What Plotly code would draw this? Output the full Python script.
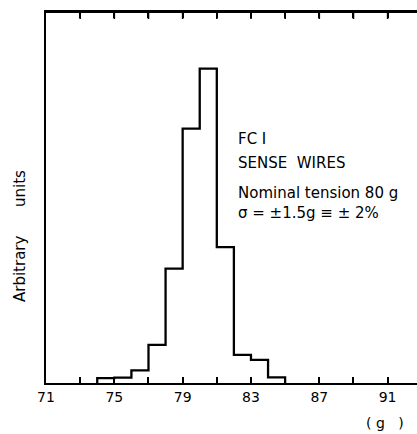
import plotly.graph_objects as go

# Histogram bins (g) and heights (arbitrary units)
bin_edges = [74, 75, 76, 77, 78, 79, 80, 81, 82, 83, 84, 85]
heights = [5, 5.5, 12.7, 38.3, 115, 255.7, 316, 136.7, 28.3, 23.3, 5.7]

tick_values = [71, 73, 75, 77, 79, 81, 83, 85, 87, 89, 91]
tick_labels = ["71", "", "75", "", "79", "", "83", "", "87", "", "91"]

info_lines = ["FC I", "SENSE  WIRES", "Nominal tension 80 g", "σ = ±1.5g ≡ ± 2%"]

x_pts = [bin_edges[0]] + bin_edges
y_pts = [0] + heights + [0]

fig = go.Figure()
fig.add_trace(go.Scatter(
    x=x_pts, y=y_pts, mode="lines", line=dict(color="black", width=2.3, shape="hv"),
    hoverinfo="skip", showlegend=False,
))

FONT = "DejaVu Sans"
XR = [71, 92.72]
TOP = 12
PLOT_H = 383 - TOP
fig.update_layout(
    width=417, height=434,
    margin=dict(l=46, r=0, t=TOP, b=51, pad=0),
    plot_bgcolor="white", paper_bgcolor="white",
    font=dict(family=FONT, color="black", size=14),
    showlegend=False,
    xaxis=dict(
        range=XR, tickmode="array", tickvals=tick_values, ticktext=tick_labels,
        ticks="inside", ticklen=6, tickwidth=1.5, tickcolor="black",
        showline=True, linecolor="black", linewidth=2, mirror="allticks",
        showgrid=False, zeroline=False, tickfont=dict(size=14), fixedrange=True,
    ),
    yaxis=dict(
        range=[0, 373], showticklabels=False, ticks="",
        showline=True, linecolor="black", linewidth=2, mirror=False,
        showgrid=False, zeroline=False, fixedrange=True,
    ),
)
# top frame line (paper coords) with inward ticks at the tick positions
fig.add_shape(type="line", xref="paper", yref="paper", x0=0, x1=1, y0=1, y1=1,
              line=dict(color="black", width=2), layer="above")
for tv in tick_values[1:]:
    px = (tv - XR[0]) / (XR[1] - XR[0])
    fig.add_shape(type="line", xref="paper", yref="paper", x0=px, x1=px,
                  y0=1, y1=1 - 7 / PLOT_H, line=dict(color="black", width=1.6),
                  layer="above")

NB = "\u00a0"
# y-axis label
fig.add_annotation(
    text="Arbitrary" + NB * 6 + "units", textangle=-90, xref="paper", yref="paper",
    x=(20 - 46) / 371, y=(383 - 236) / PLOT_H, xanchor="center", yanchor="middle",
    showarrow=False, font=dict(size=15),
)
# x unit label
fig.add_annotation(
    text="(" + NB + "g" + NB * 3 + ")", xref="paper", yref="paper",
    x=(385 - 46) / 371, y=-(423 - 383) / PLOT_H,
    xanchor="center", yanchor="middle", showarrow=False, font=dict(size=14),
)

# info text block
ys = [139, 163, 193, 213]
for line, ypx in zip(info_lines, ys):
    fig.add_annotation(
        text=line.replace("  ", NB * 2), xref="paper", yref="paper",
        x=(236 - 46) / 371, y=(383 - ypx) / PLOT_H,
        xanchor="left", yanchor="middle", showarrow=False, font=dict(size=15),
    )

fig.write_html("out.html", config={"displayModeBar": False})
